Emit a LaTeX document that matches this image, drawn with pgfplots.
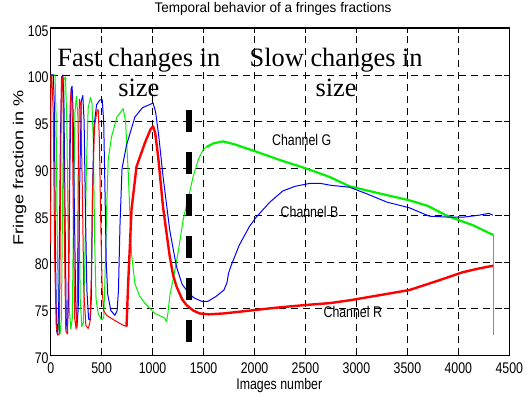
\documentclass[border=0pt]{standalone}
\usepackage{fontspec}
\setmainfont{Liberation Sans}
\newfontfamily\timesfont{Liberation Serif}
\usepackage{pgfplots}
\pgfplotsset{compat=1.18}
\definecolor{mred}{RGB}{255,0,0}
\definecolor{mgreen}{RGB}{0,240,0}
\definecolor{mblue}{RGB}{0,0,255}
\begin{document}
\begin{tikzpicture}
\begin{axis}[
  scale only axis,
  width=458.6bp, height=327.25bp,
  xmin=0, xmax=4500, ymin=70, ymax=105,
  xtick={0,500,...,4500}, ytick={70,75,...,105},
  /pgf/number format/assume math mode=true,
  /pgf/number format/1000 sep={},
  scaled ticks=false,
  tick align=inside,
  major tick length=5bp,
  every tick/.style={black, line width=0.8bp},
  axis line style={black, line width=1.5bp},
  grid=major,
  major grid style={black, line width=0.6bp, dash pattern=on 7bp off 5bp},
  tick label style={font=\fontsize{15.5}{15.5}\selectfont, xscale=0.8},
  xticklabel style={inner sep=0pt, anchor=north, yshift=-7bp},
  yticklabel style={inner sep=0pt, anchor=east, xshift=-2.5bp, yshift=-2.5bp},
  title={Temporal behavior of a fringes fractions},
  title style={font=\fontsize{14}{14}\selectfont, xscale=0.97, at={(axis description cs:0.4847,1.0298)}, anchor=base, inner sep=0pt},
  xlabel={Images number},
  xlabel style={font=\fontsize{15.5}{15.5}\selectfont, xscale=0.8, at={(axis description cs:0.4985,-0.1054)}, anchor=base, inner sep=0pt},
  ylabel={\scalebox{1.25}[1]{Fringe fraction in \%}},
  ylabel style={font=\fontsize{14.5}{14.5}\selectfont, at={(axis description cs:-0.0597,0.573)}, anchor=base, inner sep=0pt},
  clip=false,
]
% Green channel (fast part, thin)
\addplot[mgreen, line width=1.0bp, line join=round] coordinates {
(0,99) (10,100) (42,100) (52,96) (65,82) (78,73) (92,72.3) (105,74) (118,88) (130,99.5) (145,99.8) (158,95) (170,84) (182,75) (198,72.8) (212,74) (225,86) (238,96) (252,97.7) (265,96) (278,86) (290,76) (305,73.1) (320,73.5) (335,80) (350,90) (368,96.5) (390,97.6) (405,97) (418,93) (432,82) (445,76) (466,74.5) (500,73.8) (520,74) (532,78) (550,86) (565,91) (597,93.4) (650,95.5) (711,96.4) (735,95) (744,93) (760,89.8) (793,80.9) (826,77.7) (870,76.4) (923,75.6) (1022,74.5) (1120,74) (1136,73.6) (1150,74.5) (1170,76.5) (1201,78.1) (1250,81) (1299,84.5) (1364,87.5) (1397,89.1) (1450,91) (1495,92) (1528,92.3)
};
% Green channel (slow part, noisy/thick)
\addplot[mgreen, line width=2.2bp, line join=round] coordinates {
(1528,92.3) (1600,92.7) (1691,92.9) (1800,92.6) (2017,91.8) (2250,90.9) (2507,90) (2736,89.1) (2931,88.1) (3200,87.4) (3519,86.6) (3700,86) (3878,85) (4000,84.5) (4150,83.9) (4300,83.1) (4345,82.9)
};
\addplot[mgreen, line width=1.0bp] coordinates {(4345,82.9) (4345,72.2)};
% Blue channel
\addplot[mblue, line width=1.0bp, line join=round] coordinates {
(0,100) (25,100) (35,97) (48,80) (58,72.6) (68,72.2) (80,76) (95,93) (108,99.8) (120,100) (130,97) (142,84) (152,74) (162,72.5) (175,76) (188,90) (200,98.5) (210,98.8) (220,96) (232,86) (245,76) (257,73) (270,75) (284,88) (300,97.2) (315,97.8) (328,95) (340,86) (355,77) (372,73.9) (388,73.8) (398,76) (410,87) (425,94.5) (450,96.8) (480,97.3) (505,97.4) (520,95) (532,88) (545,80) (560,76.5) (590,74.8) (630,74.3) (652,74.8) (665,77) (680,84) (700,90) (744,92.5) (826,95.5) (900,96.5) (1005,97) (1030,96) (1060,93.5) (1103,89.1) (1168,83.4) (1234,79.5) (1290,77.6) (1332,77) (1400,76.2) (1480,75.8) (1544,75.8) (1620,76.3) (1700,77) (1730,77.8) (1745,78.8) (1770,79.6) (1850,81.8) (1950,83.8) (2017,84.8) (2150,86.4) (2278,87.6) (2400,88.1) (2540,88.4) (2650,88.4) (2750,88.2) (2931,88) (3100,87.3) (3300,86.4) (3519,85.8) (3715,84.9) (3900,84.8) (4050,84.8) (4200,85) (4300,85.2) (4340,85.0)
};
% Red channel (fast part, thin)
\addplot[mred, line width=1.0bp, line join=round] coordinates {
(0,82) (2,100) (10,100) (25,96) (40,80) (55,73) (70,72.2) (85,72.3) (95,85) (105,99.5) (115,99.8) (125,95) (135,82) (148,72.6) (165,72.3) (175,80) (190,96.5) (200,98.3) (210,97) (222,85) (235,74) (250,72.8) (262,76) (272,92) (282,97.4) (295,96.8) (310,88) (325,77) (345,73.2) (368,72.9) (385,73.5) (398,78) (412,88) (430,94.5) (455,96.2) (466,96.3) (478,93) (490,85) (505,77) (520,74.8) (548,74.3) (620,73.8) (700,73.3) (744,73.1)
};
% Red channel (slow part, noisy/thick)
\addplot[mred, line width=2.4bp, line join=round] coordinates {
(744,73.1) (760,77.7) (793,85.6) (842,90.2) (923,92.7) (980,94.2) (1005,94.5) (1025,93.8) (1054,91.3) (1103,85.8) (1168,80.6) (1201,78.6) (1234,77.4) (1290,76) (1332,75.4) (1400,74.8) (1462,74.5) (1550,74.4) (1700,74.5) (1952,74.8) (2200,75.1) (2500,75.4) (2736,75.6) (2931,75.9) (3200,76.4) (3519,77) (3800,78) (4041,78.9) (4200,79.3) (4340,79.6)
};
% Thick dashed separator
\addplot[black, line width=6bp, dash pattern=on 22bp off 20bp] coordinates {(1357,96.26) (1357,71.1)};
% Annotations
\node[anchor=base, inner sep=0pt, font=\timesfont\fontsize{26.5}{26.5}\selectfont] at (axis cs:865,100.96) {Fast changes in};
\node[anchor=base, inner sep=0pt, font=\timesfont\fontsize{26.5}{26.5}\selectfont] at (axis cs:865,97.68) {size};
\node[anchor=base, inner sep=0pt, font=\timesfont\fontsize{26.5}{26.5}\selectfont] at (axis cs:2801,100.96) {Slow changes in};
\node[anchor=base, inner sep=0pt, font=\timesfont\fontsize{26.5}{26.5}\selectfont] at (axis cs:2801,97.68) {size};
\node[anchor=base, inner sep=0pt, font=\fontsize{15.5}{15.5}\selectfont, xscale=0.8] at (axis cs:2463,92.44) {Channel G};
\node[anchor=base, inner sep=0pt, font=\fontsize{15.5}{15.5}\selectfont, xscale=0.8] at (axis cs:2540,84.74) {Channel B};
\node[anchor=base, inner sep=0pt, font=\fontsize{15.5}{15.5}\selectfont, xscale=0.8] at (axis cs:2964,74.04) {Channel R};
\end{axis}
\pgfresetboundingbox
\path ([xshift=-50.7bp,yshift=-42.5bp]current axis.south west) rectangle ([xshift=17.7bp,yshift=28.25bp]current axis.north east);
\end{tikzpicture}
\end{document}
